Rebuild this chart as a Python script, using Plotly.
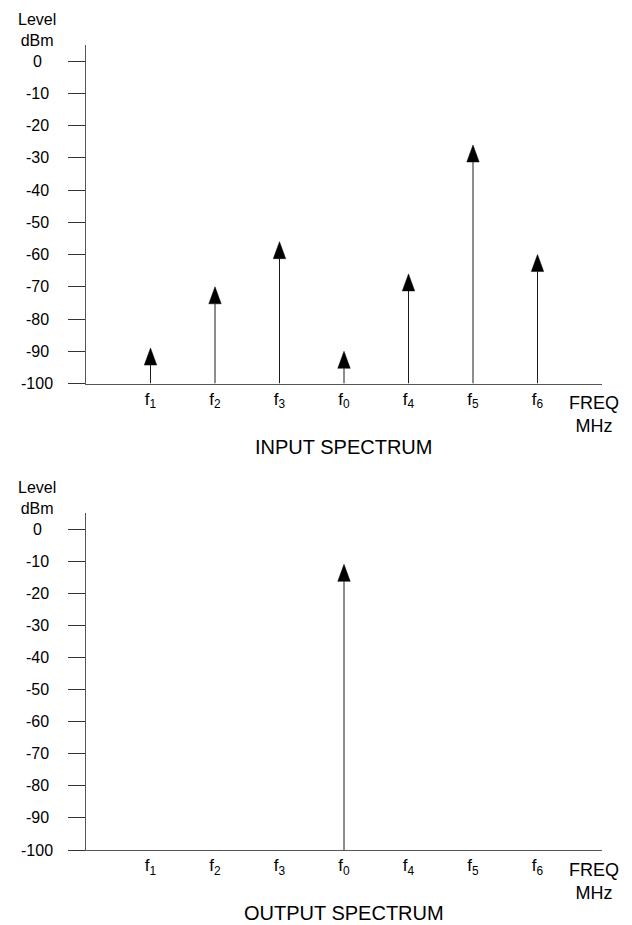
import plotly.graph_objects as go

# ---------------- data ----------------
freq_labels = ["f<sub>1</sub>", "f<sub>2</sub>", "f<sub>3</sub>", "f<sub>0</sub>",
               "f<sub>4</sub>", "f<sub>5</sub>", "f<sub>6</sub>"]
freq_pos = [1, 2, 3, 4, 5, 6, 7]
input_levels = [-89, -70, -56, -90, -66, -26, -60]
output_levels = [-100, -100, -100, -11, -100, -100, -100]
y_ticks = [0, -10, -20, -30, -40, -50, -60, -70, -80, -90, -100]
y_tick_labels = ["0", "-10", "-20", "-30", "-40", "-50", "-60", "-70", "-80", "-90", "-100"]
panel_titles = ["INPUT SPECTRUM", "OUTPUT SPECTRUM"]

# ---------------- geometry ----------------
W, H = 632, 925
ML, MR, MT, MB = 86, 30, 45, 75
PW, PH = W - ML - MR, H - MT - MB
Y_MIN, Y_MAX = -100, 5
X_MIN, X_MAX = 0, 8
FONT = "Liberation Sans, Arial, sans-serif"

def py(ypx):  # pixel -> paper y
    return (H - MB - ypx) / PH

def px(xpx):  # pixel -> paper x
    return (xpx - ML) / PW

top_dom = [py(383.5), 1.0]
bot_dom = [0.0, py(513)]

fig = go.Figure()

HEAD_PX_H, HEAD_PX_HALF_W = 17, 6.2

def add_arrows(levels, xa, ya, dom):
    dom_px = (dom[1] - dom[0]) * PH
    dB_per_px = (Y_MAX - Y_MIN) / dom_px
    x_per_px = (X_MAX - X_MIN) / PW
    head_h = HEAD_PX_H * dB_per_px
    half_w = HEAD_PX_HALF_W * x_per_px
    sx, sy, tx, ty = [], [], [], []
    for x, lv in zip(freq_pos, levels):
        if lv <= Y_MIN:
            continue
        base = lv - head_h
        sx += [x, x, None]
        sy += [Y_MIN, base, None]
        tx += [x - half_w, x + half_w, x, x - half_w, None]
        ty += [base, base, lv, base, None]
    fig.add_trace(go.Scatter(x=sx, y=sy, mode="lines", xaxis=xa, yaxis=ya,
                             line=dict(color="#1a1a1a", width=1),
                             hoverinfo="skip", showlegend=False))
    fig.add_trace(go.Scatter(x=tx, y=ty, mode="lines", fill="toself",
                             fillcolor="black", xaxis=xa, yaxis=ya,
                             line=dict(color="black", width=0.5),
                             hoverinfo="skip", showlegend=False))

add_arrows(input_levels, "x", "y", top_dom)
add_arrows(output_levels, "x2", "y2", bot_dom)

xcommon = dict(range=[X_MIN, X_MAX], showgrid=False, zeroline=False, showline=True,
               linecolor="#555555", linewidth=1, ticks="", tickvals=freq_pos,
               ticktext=freq_labels, tickfont=dict(family=FONT, size=17, color="black"),
               fixedrange=True)
ycommon = dict(range=[Y_MIN, Y_MAX], showgrid=False, zeroline=False, showline=True,
               linecolor="#555555", linewidth=1, ticks="outside", ticklen=17,
               tickcolor="#333333", tickwidth=1, tickvals=y_ticks,
               showticklabels=False, fixedrange=True)

fig.update_layout(
    width=W, height=H,
    margin=dict(l=ML, r=MR, t=MT, b=MB),
    paper_bgcolor="white", plot_bgcolor="white",
    xaxis=dict(domain=[0, 1], anchor="y", **xcommon),
    yaxis=dict(domain=top_dom, anchor="x", **ycommon),
    xaxis2=dict(domain=[0, 1], anchor="y2", **xcommon),
    yaxis2=dict(domain=bot_dom, anchor="x2", **ycommon),
    showlegend=False,
)

annotations = []
for dom, yref, axis_px, top_px, title in [
        (top_dom, "y", 383.5, 45, panel_titles[0]),
        (bot_dom, "y2", 850, 513, panel_titles[1])]:
    for v, t in zip(y_ticks, y_tick_labels):
        annotations.append(dict(x=px(37), xref="paper", y=v, yref=yref, text=t,
                                showarrow=False, xanchor="center", yanchor="middle",
                                font=dict(family=FONT, size=16, color="black")))
    annotations.append(dict(x=px(37), xref="paper", y=py(top_px - 15), yref="paper",
                            text="Level<br>dBm", showarrow=False, xanchor="center",
                            yanchor="middle",
                            font=dict(family=FONT, size=16, color="black")))
    annotations.append(dict(x=px(594), xref="paper", y=py(axis_px + 31), yref="paper",
                            text="FREQ<br>MHz", showarrow=False, xanchor="center",
                            yanchor="middle",
                            font=dict(family=FONT, size=18, color="black")))
    annotations.append(dict(x=px(343.5), xref="paper", y=py(axis_px + 63), yref="paper",
                            text=title, showarrow=False, xanchor="center",
                            yanchor="middle",
                            font=dict(family=FONT, size=20, color="black")))
fig.update_layout(annotations=annotations)

fig.write_html("out.html",
               config={"displayModeBar": False, "staticPlot": True},
               post_script="document.body.style.margin='0';document.body.style.overflow='hidden';")
